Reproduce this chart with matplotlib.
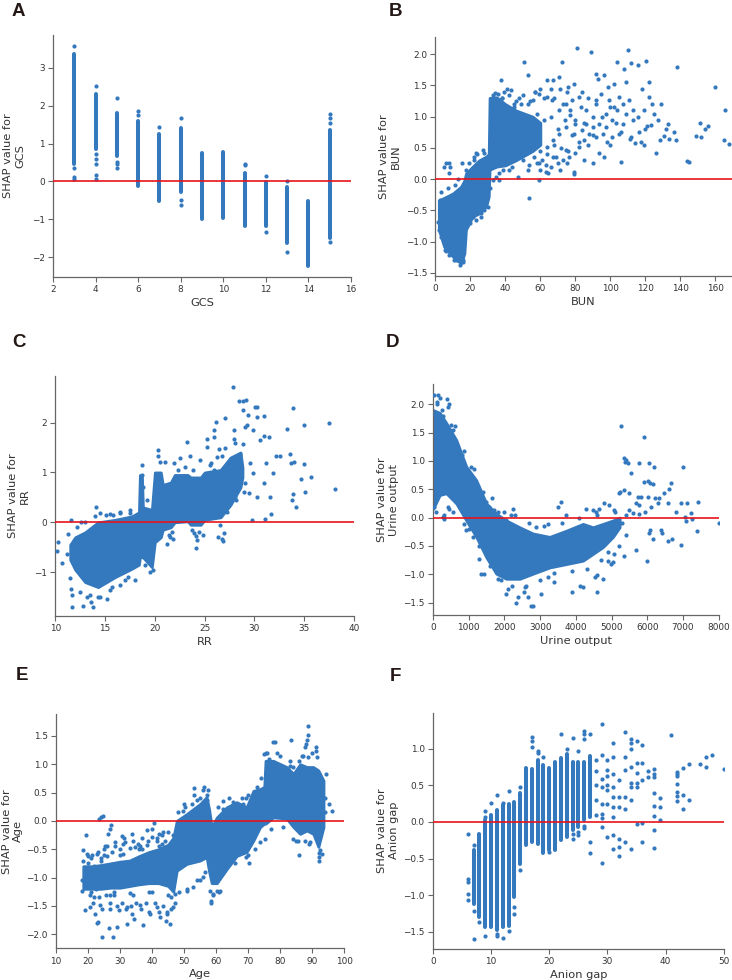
import numpy as np
import matplotlib.pyplot as plt

BLUE = '#3478bd'
RED = '#e8141b'
GREY = '#333333'

# ---------------- A: GCS (discrete levels, dense vertical runs) ----------------
gcs_levels = [3, 4, 5, 6, 7, 8, 9, 10, 11, 12, 13, 14, 15]
gcs_lo = [0.45, 0.85, 0.68, -0.13, -0.53, -0.28, -1.0, -0.97, -1.17, -1.17, -1.62, -2.25, -1.5]
gcs_hi = [3.37, 2.30, 1.80, 1.60, 1.25, 1.42, 0.75, 0.78, 0.22, -0.02, -0.15, -0.52, 1.35]
gcs_pts_x = [3, 3, 3, 3, 4, 4, 4, 4, 4, 4, 5, 5, 5, 5, 6, 6, 7, 8, 8, 8, 11, 11, 12, 12, 13, 13, 15, 15, 15, 15]
gcs_pts_y = [3.57, 0.35, 0.12, 0.05, 2.53, 0.72, 0.58, 0.45, 0.18, 0.06, 2.20, 0.50, 0.45, 0.35, 1.85, 1.75,
             1.45, 1.67, -0.50, -0.62, 0.47, 0.42, 0.13, -1.33, 0.00, -1.88, 1.78, 1.68, 1.53, -1.60]

# ---------------- B: BUN ----------------
bun_core_x = [2, 5, 10, 14.7, 16.6, 17.5, 21.3, 25, 29, 30.5, 31, 35, 40, 46, 55.6, 60]
bun_core_lo = [-0.81, -1.08, -1.24, -1.35, -1.19, -0.81, -0.6, -0.55, -0.44, -0.28, 0.15, 0.2, 0.22, 0.3, 0.45, 0.55]
bun_core_hi = [-0.34, -0.3, -0.23, -0.12, -0.02, 0.09, 0.2, 0.3, 0.36, 0.4, 1.3, 1.31, 1.2, 1.1, 1.0, 0.9]
bun_pts_x = [50.9, 81, 89, 110, 104, 112, 115.6, 120.4, 108, 138, 52.8, 72.4, 37.5, 43, 63.8, 67, 70.5, 92, 96.6, 93,
             79.4, 76, 98.5, 102, 109, 122, 118, 160, 165.5, 165, 168, 151, 154, 155.6, 148.9, 151.8, 144, 144.8, 133,
             130.9, 128.4, 126, 136.6, 137.5, 133.3, 124, 122, 119, 123, 120, 116.6, 117.5, 119, 114, 111.8, 111, 106,
             100, 93.7, 96.6, 79.4, 79.4, 53.3, 59, 47, 36.6, 52.8, 38.5, 64.2, 63,
             107, 104, 109, 101, 97.5, 93.7, 89.9, 86, 83, 82, 78, 74.7, 70.9, 66.7, 64, 59.4, 55.6, 91.8, 94.7, 99.4,
             105, 110.9, 112.8, 107, 104.8, 101, 95.6, 91.8, 88, 85, 82, 80, 76.6, 74.7, 72.8, 70, 67, 63, 59.4, 56.6,
             53.7, 50, 97.5, 102, 86, 89.9, 80, 77, 74.7, 70.9, 67, 64, 79.4, 84,
             5.1, 6.1, 8, 8.4, 7.6, 15.2, 17.5, 22.3, 23.2, 27, 30.9, 29.3, 1.3, 1.9, 3.2, 5.5, 9, 10.9, 14.3, 13, 15.6,
             4.2, 2.7, 19.4, 21.3, 26, 29.9, 31.2, 32.8, 34.7, 36.6,
             3, 4, 6, 7, 8, 11, 12, 13, 16, 18, 19, 20, 22, 23, 24, 26, 28, 28, 31, 33, 34, 36, 38, 39, 41, 42, 44, 46,
             48, 50, 53, 57, 58, 61, 62, 68, 69, 73, 76, 77,
             45, 47, 49, 51, 54, 56, 58, 60, 62, 64, 66, 68, 70, 72, 74, 78, 80, 82, 85, 87, 90, 95, 98, 103, 106, 113,
             116, 121, 125, 127, 129, 132, 100, 92, 87, 84, 75, 71, 66, 60, 57, 45, 42, 38, 60, 66, 71, 75, 85, 90]
bun_pts_y = [1.88, 2.10, 2.03, 2.06, 1.87, 1.86, 1.83, 1.89, 1.77, 1.79, 1.66, 1.87, 1.58, 1.43, 1.59, 1.58, 1.63, 1.69,
             1.66, 1.61, 1.53, 1.48, 1.47, 1.53, 1.55, 1.55, 1.44, 1.48, 1.11, 0.63, 0.56, 0.90, 0.81, 0.85, 0.69, 0.68,
             0.29, 0.27, 0.88, 0.69, 0.62, 0.41, 0.76, 0.62, 0.65, 1.21, 1.31, 1.10, 0.86, 0.81, 0.76, 0.60, 0.55, 0.58,
             0.68, 0.65, 0.28, 0.54, 0.41, 0.36, 0.12, 0.08, -0.30, -0.02, 0.04, -0.02, 0.14, 0.14, 0.09, 0.12,
             1.21, 1.10, 1.05, 0.94, 0.84, 0.89, 0.99, 1.10, 1.15, 1.31, 1.26, 1.21, 1.10, 1.26, 1.31, 1.37, 1.26, 1.26,
             1.37, 1.26, 1.31, 1.26, 1.10, 0.89, 0.73, 0.68, 0.73, 0.68, 0.73, 0.62, 0.52, 0.41, 0.36, 0.46, 0.30, 0.25,
             0.36, 0.22, 0.25, 0.36, 0.22, 0.30, 1.05, 1.15, 0.89, 0.84, 0.89, 1.02, 0.84, 0.73, 0.62, 0.52, 0.73, 0.78,
             0.20, 0.25, 0.25, 0.20, 0.09, 0.25, 0.14, 0.36, 0.41, 0.46, 0.20, 0.09, -0.68, -0.81, -0.92, -1.13, -1.19,
             -1.29, -1.38, -1.29, -1.29, -0.39, -0.34, -0.55, -0.60, -0.55, -0.44, -0.15, -0.02, 0.04, 0.09,
             -0.2, -0.55, -1.15, -0.15, -1.22, -0.1, -1.3, 0.0, -1.32, -0.1, 0.25, -0.7, 0.3, -0.65, 0.4, -0.6, 0.42,
             -0.5, 0.45, 1.35, 1.38, 1.36, 1.3, 1.4, 1.45, 0.15, 0.2, 1.25, 1.3, 1.35, 1.2, 1.4, 0.25, 0.3, 1.3, 1.3,
             0.35, 1.2, 0.45, 1.1,
             1.15, 0.35, 1.2, 0.5, 1.25, 0.6, 1.05, 0.45, 0.95, 0.4, 1.0, 0.55, 0.8, 0.5, 0.95, 0.7, 0.95, 0.6, 0.9,
             0.55, 0.7, 1.0, 0.6, 0.9, 0.75, 0.95, 1.0, 0.85, 1.05, 0.95, 1.2, 0.8, 1.15, 1.2, 1.3, 1.4, 1.4, 1.45,
             1.45, 1.45, 1.4, 1.2, 1.35, 1.3, 0.15, 0.2, 0.15, 0.25, 0.3, 0.25]

# ---------------- C: RR ----------------
rr_core_x = [11.5, 12.0, 13.0, 14.3, 16.0, 17.7, 18.4, 18.5, 18.7, 18.8, 19.7, 20.0, 20.6, 20.8, 21.6, 22.0, 23.3,
             23.6, 24.6, 25.0, 26.6, 27.6, 28.6, 28.8]
rr_core_lo = [-0.75, -0.95, -1.2, -1.3, -1.1, -0.93, -0.85, -0.7, -0.7, -0.7, -0.9, -0.4, -0.3, -0.15, -0.1, 0.0,
              0.02, -0.05, -0.05, 0.05, 0.1, 0.35, 0.7, 0.9]
rr_core_hi = [-0.45, -0.3, -0.2, 0.0, 0.05, 0.12, 0.2, 0.95, 0.95, 0.3, 0.25, 1.0, 1.0, 0.75, 0.8, 0.95, 0.95, 0.9,
              0.9, 1.0, 1.05, 1.3, 1.4, 1.1]
rr_pts_x = [27.8, 28.5, 28.9, 29.2, 30.1, 30.3, 33.9, 37.5, 35, 33.3, 38.1, 35.7, 34.7, 35.1, 34.2, 33.8, 33.9, 35,
            33.7, 34, 33.6, 32.6, 32.2, 31.5, 31, 31, 30.3, 29.3, 29.1, 27.9, 27, 26.1, 25.9, 23.2, 25.2, 26.4, 29.8,
            31.1, 31.7, 26.7, 26.8, 26.3, 26.9, 24.1, 21.2, 21.8, 20.3, 20.3, 18.7, 18.7, 18.8, 19, 19.8, 10.2, 10.3,
            10.7, 11.2, 11.5, 11.6, 11.7, 11.7, 12.8, 13.8, 13.6, 13.2, 14.3, 15.2, 15.7, 17, 18, 11.6, 12.6, 11.3,
            14.1, 14.5, 15.1, 15.8, 16.5, 17.5, 17.8, 21.05, 21.9, 22.5, 23.5, 24.5, 25.6, 24, 23.2, 28.9, 28.6, 29.6,
            29.9, 31, 30.3, 29.5, 29.1, 28.3, 27.5, 26.7, 31.2, 31.9, 31.6, 30.6, 29.9, 27.9, 28.9, 29.4, 25.2, 25.9,
            25.2, 25.9, 26.7, 27.5, 28.0,
            12.5, 13.5, 14.5, 15.5, 16.5, 17.3, 12.2, 13, 14, 15.5, 16.5, 17.5, 19.2, 19.5, 20.5, 21.2, 21.5, 22.3, 23,
            23.8, 24.2, 24.8, 25.5, 26.2, 26.5, 27, 27.2, 28, 28.2, 29,
            23.9, 24.1, 24.4, 23.7, 21.4, 21.7]
rr_pts_y = [2.72, 2.44, 2.44, 2.46, 2.32, 2.31, 2.29, 2.0, 1.96, 1.87, 0.66, 0.91, 0.87, 0.60, 0.31, 0.44, 0.56, 1.16,
            1.18, 1.21, 1.38, 1.32, 1.33, 1.72, 1.74, 2.13, 2.12, 1.95, 1.92, 1.68, 2.09, 2.02, 1.85, 1.62, 1.52, 1.48,
            0.05, 0.07, 0.17, -0.33, -0.38, -0.30, -0.21, -0.51, -0.43, -0.33, 1.45, 1.33, 0.95, 1.15, 0.71, -0.86,
            -0.95, -0.58, -0.40, -0.82, -0.63, -1.12, -1.34, -1.46, -1.70, -1.67, -1.70, -1.60, -1.50, -1.50, -1.54,
            -1.29, -1.15, -1.15, 0.04, 0.0, -0.23, 0.31, 0.19, 0.14, 0.14, 0.19, 0.19, 0.11, 1.21, 1.18, 1.28, 1.32,
            1.25, 1.18, 0.83, 0.38, 1.58, 1.38, 1.18, 0.98, 0.78, 0.51, 0.58, 0.78, 0.98, 1.18, 1.32, 1.18, 0.98, 0.51,
            1.65, 1.85, 1.85, 2.25, 2.15, 1.68, 1.72, 0.85, 1.05, 0.85, 0.78, 0.51,
            -1.4, -1.45, -1.5, -1.35, -1.25, -1.1, -0.1, 0.0, 0.12, 0.17, 0.2, 0.25, 0.45, -1.0, 1.2, 0.75, -0.3, 1.05,
            1.1, 1.05, -0.35, -0.25, 1.15, 1.3, -0.05, 1.5, 0.2, 1.6, 0.45, 0.6,
            -0.22, -0.28, -0.2, -0.15, -0.25, -0.2]

# ---------------- D: Urine output ----------------
uo_core_x = [0, 190, 373, 653, 933, 1213, 1493, 1773, 2053, 2427, 2800, 3267, 3734, 4200, 4480, 4760, 5040, 5227]
uo_core_lo = [0.15, 0.4, 0.43, 0.25, -0.05, -0.34, -0.7, -0.99, -1.08, -1.08, -0.99, -0.88, -0.82, -0.76, -0.64,
              -0.52, -0.34, -0.17]
uo_core_hi = [1.9, 1.85, 1.67, 1.37, 0.9, 0.66, 0.25, 0.07, -0.05, -0.17, -0.28, -0.34, -0.23, -0.11, -0.17, -0.11,
              -0.05, 0.0]
uo_pts_x = [37, 131, 196, 392, 457, 429, 112, 56, 271, 504, 625, 5264, 5918, 5358, 5405, 5386, 5759, 6040, 6180, 6991,
            5470, 5545, 5918, 6012, 6086, 6152, 6665, 6618, 6460, 6338, 6572, 5236, 5218, 5358, 5498, 5731, 5825, 5685,
            5778, 6012, 6291, 6226, 7103, 7411, 6945, 6805, 7224, 7056, 7084, 7243, 7392, 8000, 6954, 6572, 6693, 6385,
            6413, 6040, 6170, 6086, 5685, 5984, 5339, 6105, 5946, 5778, 5591, 5498, 5405, 5078, 4938, 4798, 4658, 4565,
            4472, 4284, 3584, 3491, 3725, 3211, 2884, 2231, 2184, 2044, 4592, 4592, 4546, 4751, 4126, 4191, 3893, 3398,
            3211, 3025, 2791, 2744, 2324, 2371, 2558, 2651, 2586, 2091, 2044, 1811, 1344, 1437, 1297, 4985, 5031, 4891,
            5078, 877, 1064, 37, 84, 271, 317, 411, 569, 877, 924, 1111, 1391, 1484, 1577, 1717, 1811,
            100, 250, 300, 450, 550, 800, 1000, 1150, 1300, 1400, 1600, 1650, 1900, 2000, 2200, 2300, 2600, 2700, 3000,
            3100, 3400, 3600, 3900, 4100, 4300, 4600, 4700, 4900, 5100, 5200, 5300, 5400]
uo_pts_y = [2.17, 2.17, 2.11, 2.09, 2.0, 1.95, 2.05, 1.83, 1.79, 1.64, 1.62, 1.62, 1.42, 1.05, 1.02, 0.99, 0.97, 0.96,
            0.90, 0.90, 0.96, 0.78, 0.63, 0.65, 0.62, 0.60, 0.62, 0.50, 0.44, 0.34, 0.25, 0.46, 0.43, 0.49, 0.43, 0.37,
            0.37, 0.25, 0.22, 0.37, 0.26, 0.34, 0.25, 0.28, 0.25, 0.10, 0.08, 0.01, -0.06, -0.02, -0.24, -0.09, -0.49,
            -0.42, -0.37, -0.22, -0.28, -0.28, -0.37, -0.22, -0.58, -0.76, -0.67, 0.19, 0.10, 0.07, 0.08, 0.13, 0.04,
            0.13, 0.22, 0.25, 0.16, 0.10, 0.13, 0.16, 0.28, 0.19, 0.04, -0.11, -0.17, 0.16, 0.04, -0.05, -1.02, -1.32,
            -1.05, -1.08, -1.20, -1.22, -1.32, -1.14, -1.05, -1.35, -1.56, -1.56, -1.50, -1.41, -1.32, -1.41, -1.23,
            -1.26, -1.35, -1.08, -0.99, -0.99, -0.73, -0.82, -0.79, -0.76, -0.64, 1.17, 0.90, 0.19, 0.10, 0.01, -0.02,
            0.19, 0.10, -0.11, -0.22, -0.34, 0.25, 0.28, 0.19, 0.13, 0.10,
            2.0, 1.9, 0.05, 0.15, 1.55, 1.1, -0.2, 0.85, -0.5, 0.45, -0.85, 0.35, -1.1, 0.1, -1.2, 0.05, -1.2, -0.1,
            -1.1, -0.15, -0.98, -0.1, -0.95, 0.0, -0.9, 0.05, -0.75, -0.6, 0.1, -0.5, -0.1, -0.3]

# ---------------- E: Age ----------------
age_core_x = [18.5, 21, 24, 27, 30, 33, 36, 39, 42, 45, 46.6, 47.7, 50.8, 55, 57, 57.8, 58.6, 60.2, 63.3, 66.4, 69.5,
              71.6, 73.7, 75.0, 75.4, 77.8, 82, 84.1, 86.2, 88.3, 90.3, 91.9, 93.5]
age_core_lo = [-1.2, -1.2, -1.2, -1.18, -1.18, -1.15, -1.12, -1.1, -1.1, -1.15, -1.25, -0.88, -0.76, -0.7, -0.64,
               -0.9, -1.1, -1.1, -0.85, -0.62, -0.55, -0.35, -0.11, -0.05, -0.05, 0.06, 0.04, -0.11, -0.23, -0.17,
               -0.23, -0.46, -0.11]
age_core_hi = [-0.8, -0.8, -0.78, -0.75, -0.72, -0.7, -0.62, -0.55, -0.5, -0.42, -0.3, 0.0, 0.12, 0.3, 0.42, 0.2,
               -0.11, 0.06, 0.24, 0.33, 0.24, 0.53, 0.56, 0.6, 1.06, 1.06, 0.95, 0.83, 1.0, 0.95, 0.95, 0.89, 0.71]
age_pts_x = [88.8, 88.8, 88.5, 83.4, 78.4, 77.6, 75.4, 75, 76.6, 79.9, 88, 87.7, 91.2, 91.2, 91.4, 88.8, 86.7, 86, 88,
             84, 83, 94.3, 95.3, 96.3, 94, 93, 92.2, 93, 92.4, 92, 85.7, 85.4, 84.1, 87.7, 89.3, 53.1, 56.2, 50.3, 49.5,
             52.3, 53.9, 54.9, 57.0, 55.4, 60.7, 62, 65.4, 66.4, 69.3, 68.5, 71.6, 72.6, 73.7, 74.7, 40.7, 39.9, 38.3,
             42.3, 24, 24.6, 23.5, 27.1, 26.9, 26.3, 33.6, 30.5, 31.2, 28.4, 31.5, 19.4, 25.3, 25.8, 34.7, 36.2, 38.8,
             41.4, 43.5, 18.5, 19.8, 21.1, 22.7, 18.3, 18, 18, 19, 20.6, 22.2, 22.7, 23.2, 24.5, 27.9, 26.4, 29.1, 29.8,
             32.1, 34.3, 33.6, 37.3, 39.3, 42.5, 44.2, 45.6, 44.5, 41.4, 36.2, 32.1, 26.9, 23.7, 46.6, 47.1, 50.8, 52.9,
             55, 56, 58.1, 58.3, 58.4, 61.2, 59.1, 60.2, 65.4, 67.4, 70, 70.3, 69.3, 62, 64.3, 73.7, 75.2,
             19, 19.5, 20, 20.5, 21, 21.5, 22, 22.5, 23, 23.5, 24, 24.5, 25, 25.5, 26, 27, 27.5, 28, 28.5, 29, 30, 30.5,
             31, 32, 33, 33.5, 34, 35, 35.5, 36.5, 37, 38, 38.5, 39, 40, 41, 41.5, 42, 43, 43.5, 44, 44.5, 45, 46, 46.5,
             47, 48, 48.5, 49, 51, 52, 54, 55, 56.5, 57, 57.5,
             48, 50, 53, 56, 59, 61, 62, 64, 66, 68, 70, 72, 74, 76, 77, 79, 81, 83, 85, 87, 89, 90, 92, 94,
             20, 22, 25, 28, 31, 34, 37, 40, 43, 46, 21, 24, 27, 30, 33, 36, 39, 42, 45]
age_pts_y = [1.67, 1.51, 1.42, 1.42, 1.40, 1.39, 1.19, 1.18, 1.09, 1.15, 1.35, 1.30, 1.31, 1.24, 1.12, 1.12, 1.15, 1.06,
             0.89, 0.95, 0.96, 0.83, 0.29, 0.18, 0.15, 0.06, -0.64, -0.58, -0.51, -0.56, -0.60, -0.35, -0.32, -0.35,
             -0.38, 0.58, 0.59, 0.24, 0.17, 0.30, 0.36, 0.41, 0.36, 0.18, 0.24, 0.21, 0.33, 0.27, 0.41, 0.30, 0.21, 0.59,
             0.54, 0.51, -0.04, -0.14, -0.17, -0.23, 0.06, 0.08, 0.04, -0.07, -0.14, -0.23, -0.23, -0.26, -0.30, -0.38,
             -0.38, -0.25, -0.44, -0.45, -0.46, -0.44, -0.35, -0.35, -0.20, -0.52, -0.58, -0.61, -0.58, -0.70, -1.05,
             -1.23, -1.58, -1.52, -1.64, -1.81, -1.79, -2.05, -2.05, -1.89, -1.88, -1.58, -1.82, -1.73, -1.64, -1.84,
             -1.64, -1.70, -1.76, -1.82, -1.64, -1.52, -1.49, -1.52, -1.55, -1.49, -1.52, -1.29, -1.23, -1.17, -1.05,
             -0.99, -1.23, -1.41, -1.45, -1.23, -1.29, -1.23, -0.41, -0.44, -0.61, -0.74, -0.64, -0.73, -0.64, -0.38,
             -0.32,
             -0.9, -1.1, -0.75, -1.3, -0.65, -1.45, -0.8, -1.2, -0.55, -1.35, -0.7, -1.55, -0.5, -1.3, -0.62, -1.45,
             -0.55, -1.25, -0.45, -1.5, -0.5, -1.45, -0.4, -1.55, -0.48, -1.5, -0.35, -1.45, -0.4, -1.55, -0.3, -1.45,
             -0.42, -1.6, -0.28, -1.45, -0.3, -1.6, -0.25, -1.5, -0.35, -1.6, -0.2, -1.55, -0.25, -1.45, -0.05, -1.25,
             0.0, -1.2, 0.1, -1.05, 0.25, -0.9, 0.45, 0.55,
             0.15, 0.3, 0.45, 0.55, -1.3, -1.25, 0.35, 0.4, -0.75, 0.4, 0.45, -0.5, 0.75, 1.2, -0.15, 1.2, -0.1, 1.05,
             -0.35, 1.15, -0.4, 1.2, -0.7, 0.4,
             -0.62, -1.35, -0.6, -1.3, -0.58, -1.3, -0.5, -1.25, -0.4, -1.35, -1.25, -0.65, -1.3, -0.6, -1.28, -0.5,
             -1.25, -0.45, -1.3]

# ---------------- F: Anion gap (discrete levels) ----------------
ag_levels = [7, 8, 9, 10, 11, 12, 13, 14, 15, 16, 17, 18, 19, 20, 21, 22, 23, 24, 25, 26, 27]
ag_lo = [-1.12, -1.30, -1.44, -1.44, -1.48, -1.44, -1.42, -1.03, -0.57, -0.32, -0.27, -0.30, -0.43, -0.39, -0.39,
         -0.25, -0.21, -0.11, -0.07, 0.02, 0.07]
ag_hi = [-0.39, -0.16, 0.02, 0.10, 0.16, 0.23, 0.25, 0.27, 0.39, 0.74, 0.72, 0.84, 0.78, 0.73, 0.82, 0.87, 0.93, 0.82,
         0.82, 0.82, 0.90]
ag_pts_x = [6, 6, 6, 6, 6, 7, 7, 7, 8, 9, 9, 9, 10, 11, 11, 11, 12, 12, 13, 13, 14, 14, 15, 15, 17, 17, 17, 18, 18,
            19, 20, 22, 23, 24, 24, 24, 25, 25, 25, 26, 26, 26, 26, 26, 27, 27, 27,
            28, 28, 28, 28, 28, 29, 29, 29, 29, 29, 29, 29, 29, 29, 30, 30, 30, 30, 30, 30, 30,
            31, 31, 31, 31, 31, 31, 31, 31, 31, 32, 32, 32, 32, 32, 32, 33, 33, 33, 33, 33, 33,
            34, 34, 34, 34, 34, 34, 34, 34, 35, 35, 35, 35, 35, 35, 36, 36, 36, 36, 36, 37, 37,
            38, 38, 38, 38, 38, 38, 38, 38, 39, 39, 39, 41, 42, 42, 42, 42, 42, 42, 42, 43, 43, 43, 44, 44, 46, 47, 47,
            48, 50]
ag_pts_y = [-0.17, -0.78, -0.82, -0.98, -1.07, -0.32, -1.21, -1.60, -1.37, 0.15, 0.07, -1.55, 0.26, 0.37, -1.53,
            -1.56, 0.26, -1.58, 0.42, -1.49, -1.16, -1.25, 0.47, -0.65, 1.16, 1.10, 1.02, 0.97, 0.94, 0.89, -0.41,
            1.20, 1.00, 1.15, -0.16, -0.23, 0.97, -0.14, -0.18, 1.24, 1.20, 1.13, -0.05, -0.09, 1.20, -0.27, -0.43,
            0.85, 0.70, 0.50, 0.30, 0.09, 1.33, 0.91, 0.59, 0.48, 0.25, 0.11, 0.05, -0.07, -0.56, 0.84, 0.71, 0.62,
            0.50, 0.44, 0.25, -0.21, 1.07, 0.89, 0.66, 0.48, 0.34, 0.20, 0.07, -0.18, -0.37, 0.57, 0.34, 0.20, -0.23,
            -0.34, -0.47, 1.22, 0.88, 0.71, 0.34, 0.17, -0.27, 1.13, 1.07, 1.00, 0.75, 0.53, 0.48, 0.30, -0.37, 1.10,
            0.81, 0.67, 0.53, 0.48, -0.03, 1.05, 0.81, 0.57, -0.01, -0.27, 0.70, 0.61, 0.72, 0.66, 0.61, 0.40, 0.22,
            0.08, -0.11, -0.35, 0.33, 0.20, 0.02, 1.19, 0.68, 0.66, 0.62, 0.52, 0.41, 0.36, 0.29, 0.73, 0.37, 0.18,
            0.79, 0.30, 0.79, 0.89, 0.75, 0.91, 0.72]


def style(ax, xlabel, ylabel, xlim, ylim, xticks, ylab_x):
    ax.axhline(0, color=RED, lw=1.2, zorder=4)
    ax.set_xlim(xlim)
    ax.set_ylim(ylim)
    ax.set_xticks(xticks)
    ax.set_xlabel(xlabel, fontsize=8.2, color=GREY, labelpad=2.5)
    ax.set_ylabel(ylabel, fontsize=8.2, color=GREY)
    ax.yaxis.set_label_coords(ylab_x, 0.5)
    for s in ['top', 'right']:
        ax.spines[s].set_visible(False)
    for s in ['left', 'bottom']:
        ax.spines[s].set_color('#666666')
        ax.spines[s].set_linewidth(0.9)
    ax.tick_params(labelsize=6.4, colors=GREY, length=3.5, width=0.8, color='#666666', pad=2.5)


def core(ax, x, lo, hi):
    ax.fill_between(x, lo, hi, color=BLUE, lw=2.0, edgecolor=BLUE, joinstyle='round', zorder=2)


def pts(ax, x, y):
    ax.scatter(x, y, s=9, color=BLUE, linewidths=0, zorder=3)


def runs(ax, x, lo, hi, lw=2.9):
    lc = ax.vlines(x, lo, hi, color=BLUE, lw=lw, zorder=2)
    lc.set_capstyle('round')


fig = plt.figure(figsize=(7.32, 9.8), dpi=100)

axA = fig.add_axes([0.0724, 0.7173, 0.4071, 0.2470])
runs(axA, gcs_levels, gcs_lo, gcs_hi)
pts(axA, gcs_pts_x, gcs_pts_y)
style(axA, 'GCS', 'SHAP value for\nGCS', (2, 16), (-2.53, 3.87), range(2, 17, 2), -0.094)

axB = fig.add_axes([0.5947, 0.7184, 0.4053, 0.2442])
core(axB, bun_core_x, bun_core_lo, bun_core_hi)
pts(axB, bun_pts_x, bun_pts_y)
style(axB, 'BUN', 'SHAP value for\nBUN', (0, 169.5), (-1.55, 2.28), range(0, 161, 20), -0.116)

axC = fig.add_axes([0.0755, 0.3714, 0.4081, 0.2452])
core(axC, rr_core_x, rr_core_lo, rr_core_hi)
pts(axC, rr_pts_x, rr_pts_y)
style(axC, 'RR', 'SHAP value for\nRR', (10, 40), (-1.88, 2.94), range(10, 41, 5), -0.085)

axD = fig.add_axes([0.5915, 0.3724, 0.3903, 0.2358])
core(axD, uo_core_x, uo_core_lo, uo_core_hi)
pts(axD, uo_pts_x, uo_pts_y)
style(axD, 'Urine output', 'SHAP value for\nUrine output', (0, 8000), (-1.72, 2.36), range(0, 8001, 1000), -0.119)

axE = fig.add_axes([0.0765, 0.0323, 0.3939, 0.2388])
core(axE, age_core_x, age_core_lo, age_core_hi)
pts(axE, age_pts_x, age_pts_y)
style(axE, 'Age', 'SHAP value for\nAge', (10, 100), (-2.25, 1.88), range(10, 101, 10), -0.114)

axF = fig.add_axes([0.5915, 0.0319, 0.3972, 0.2409])
runs(axF, ag_levels, ag_lo, ag_hi)
pts(axF, ag_pts_x, ag_pts_y)
style(axF, 'Anion gap', 'SHAP value for\nAnion gap', (0, 50), (-1.73, 1.49), range(0, 51, 10), -0.117)

letters = [('A', 12, 3), ('B', 389, 3), ('C', 12, 334), ('D', 386, 334), ('E', 16, 667), ('F', 390, 668)]
for t, px, py in letters:
    fig.text(px / 732, 1 - py / 980, t, fontsize=13.5, fontweight='bold', family='Liberation Sans',
             color='#231815', va='top', ha='left')

fig.savefig('out.png', dpi=100)
